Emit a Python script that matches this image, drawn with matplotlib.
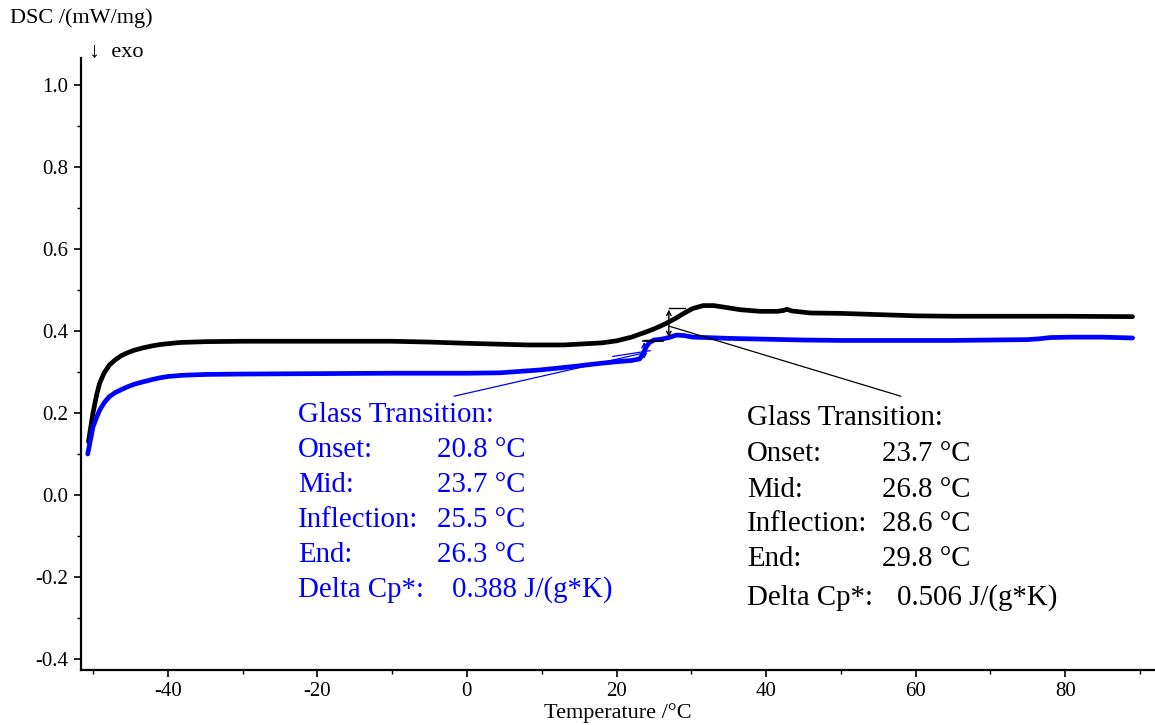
import matplotlib
matplotlib.use("Agg")
import matplotlib.pyplot as plt
from matplotlib.ticker import MultipleLocator

plt.rcParams['font.family'] = ['Liberation Serif', 'DejaVu Serif']
plt.rcParams['axes.unicode_minus'] = False

# Second heating (black) and first heating (blue) DSC curves
temp_black = [-50.6, -50.0, -49.5, -49.1, -48.5, -47.8, -47.0, -46.2, -45.5, -44.5,
              -43.3, -42.0, -41.0, -39.5, -38.3, -35, -30, -20, -10, -5,
              0, 4, 8, 13, 18, 20, 22, 24, 25, 26,
              27, 28, 29, 30.2, 31.6, 33, 34.8, 36.5, 39.2, 41.5,
              42.3, 42.8, 43.4, 45.9, 50, 55, 60, 65, 70, 80, 89]
dsc_black = [0.130, 0.200, 0.245, 0.273, 0.298, 0.317, 0.330, 0.340, 0.346, 0.353,
             0.359, 0.364, 0.367, 0.370, 0.372, 0.374, 0.375, 0.375, 0.375, 0.373,
             0.370, 0.368, 0.366, 0.366, 0.371, 0.376, 0.385, 0.398, 0.405, 0.413,
             0.422, 0.432, 0.443, 0.455, 0.462, 0.462, 0.457, 0.452, 0.448, 0.448,
             0.450, 0.453, 0.449, 0.444, 0.443, 0.440, 0.437, 0.436, 0.436, 0.436, 0.435]

temp_blue = [-50.7, -50.0, -49.5, -49.1, -48.5, -47.8, -47.0, -46.2, -45.5, -44.5,
             -43.3, -42.0, -41.0, -40, -38, -35, -30, -20, -10, 0,
             4.4, 9.8, 14, 17.8, 20, 22, 23.1, 23.5, 24.0, 24.4,
             25, 26, 27, 28, 29, 30.2, 32, 35, 40, 45,
             50, 55, 60, 65, 70, 75, 76.5, 78, 80.7, 85, 89]
dsc_blue = [0.100, 0.166, 0.190, 0.207, 0.225, 0.240, 0.250, 0.257, 0.263, 0.270,
            0.276, 0.282, 0.286, 0.289, 0.292, 0.294, 0.295, 0.296, 0.297, 0.297,
            0.298, 0.305, 0.313, 0.321, 0.325, 0.328, 0.332, 0.343, 0.362, 0.372,
            0.378, 0.380, 0.384, 0.390, 0.389, 0.385, 0.384, 0.382, 0.380, 0.378,
            0.377, 0.377, 0.377, 0.377, 0.378, 0.379, 0.381, 0.384, 0.385, 0.385, 0.383]

# Glass transition evaluation results
blue_labels = ["Onset:", "Mid:", "Inflection:", "End:", "Delta Cp*:"]
blue_values = ["20.8 \u00b0C", "23.7 \u00b0C", "25.5 \u00b0C", "26.3 \u00b0C", "0.388 J/(g*K)"]
black_labels = ["Onset:", "Mid:", "Inflection:", "End:", "Delta Cp*:"]
black_values = ["23.7 \u00b0C", "26.8 \u00b0C", "28.6 \u00b0C", "29.8 \u00b0C", "0.506 J/(g*K)"]

x_ticks = [-40, -20, 0, 20, 40, 60, 80]
y_ticks = [-0.4, -0.2, 0.0, 0.2, 0.4, 0.6, 0.8, 1.0]

W, H = 1155, 725
fig = plt.figure(figsize=(W / 100, H / 100), dpi=100)
ax = fig.add_axes([81 / W, 1 - 670 / H, 1 - 81 / W, (670 - 58) / H])

ax.plot(temp_black, dsc_black, color='black', lw=3.4, solid_capstyle='round',
        solid_joinstyle='round', zorder=3)
ax.plot(temp_blue, dsc_blue, color='#0000ff', lw=3.4, solid_capstyle='round',
        solid_joinstyle='round', zorder=4)

# Evaluation construction lines
ax.plot([-1.7, 23.3], [0.241, 0.345], color='#0000ff', lw=0.9, zorder=5)
ax.plot([19.5, 24.5], [0.338, 0.352], color='#0000ff', lw=0.9, zorder=5)
ax.plot([23.7, 26.0], [0.378, 0.378], color='#0000ff', lw=1.0, zorder=5)
ax.annotate('', xy=(23.7, 0.380), xytext=(23.7, 0.325),
            arrowprops=dict(arrowstyle='<->', color='#0000ff', lw=1.0,
                            mutation_scale=8), zorder=5)

ax.plot([58.0, 27.0], [0.241, 0.412], color='black', lw=0.9, zorder=6)
ax.plot([27.0, 29.2], [0.457, 0.457], color='black', lw=1.0, zorder=6)
ax.plot([23.5, 26.2], [0.375, 0.375], color='black', lw=1.2, zorder=6)
ax.annotate('', xy=(27.0, 0.459), xytext=(27.0, 0.378),
            arrowprops=dict(arrowstyle='<->', color='black', lw=1.0,
                            mutation_scale=8), zorder=6)

ax.set_xlim(-51.6, 92.0)
ax.set_ylim(-0.427, 1.066)
ax.set_xticks(x_ticks)
ax.set_yticks(y_ticks)
ax.set_yticklabels([f"{v:.1f}" for v in y_ticks])
ax.xaxis.set_minor_locator(MultipleLocator(10))
ax.yaxis.set_minor_locator(MultipleLocator(0.1))
ax.tick_params(axis='both', which='major', direction='out', length=5, width=1.2,
               labelsize=15, pad=4)
ax.tick_params(axis='both', which='minor', direction='out', length=3, width=1.0)
for side in ('top', 'right'):
    ax.spines[side].set_visible(False)
for side in ('left', 'bottom'):
    ax.spines[side].set_linewidth(1.6)

ax.set_xlabel("Temperature /\u00b0C", fontsize=16, labelpad=1)
fig.text(10 / W, 1 - 18 / H, "DSC /(mW/mg)", fontsize=16, ha='left', va='center')
fig.text(89 / W, 1 - 53 / H, "\u2193  exo", fontsize=16, ha='left', va='center')

# Result tables
fs = 20.8
blue_rows = [415, 450, 485, 520, 555, 590]
fig.text(298 / W, 1 - blue_rows[0] / H, "Glass Transition:", color='#0000ff',
         fontsize=fs, ha='left', va='center')
for i, (lab, val) in enumerate(zip(blue_labels, blue_values)):
    y = 1 - blue_rows[i + 1] / H
    fig.text(298 / W, y, lab, color='#0000ff', fontsize=fs, ha='left', va='center')
    vx = 452 if i == 4 else 437
    fig.text(vx / W, y, val, color='#0000ff', fontsize=fs, ha='left', va='center')

black_rows = [418, 454, 490, 524, 559, 598]
fig.text(747 / W, 1 - black_rows[0] / H, "Glass Transition:", color='black',
         fontsize=fs, ha='left', va='center')
for i, (lab, val) in enumerate(zip(black_labels, black_values)):
    y = 1 - black_rows[i + 1] / H
    fig.text(747 / W, y, lab, color='black', fontsize=fs, ha='left', va='center')
    vx = 897 if i == 4 else 882
    fig.text(vx / W, y, val, color='black', fontsize=fs, ha='left', va='center')

fig.savefig("out.png", dpi=100, facecolor='white')
